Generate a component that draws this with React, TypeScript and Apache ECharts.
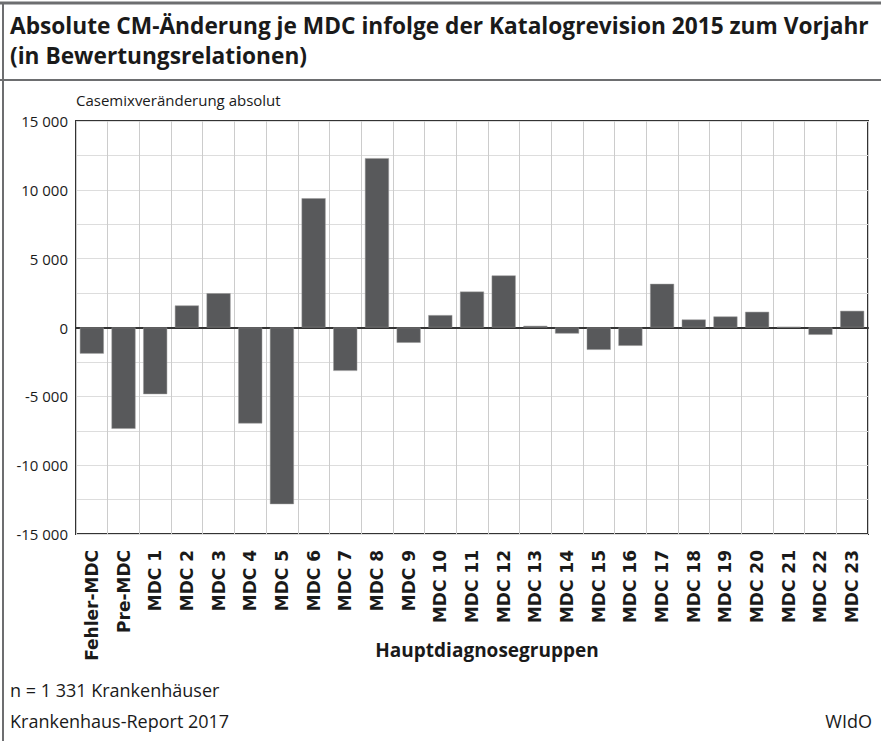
import React, { useEffect, useRef } from "react";
import * as echarts from "echarts";

const categories = [
  "Fehler-MDC", "Pre-MDC", "MDC 1", "MDC 2", "MDC 3", "MDC 4", "MDC 5", "MDC 6",
  "MDC 7", "MDC 8", "MDC 9", "MDC 10", "MDC 11", "MDC 12", "MDC 13", "MDC 14",
  "MDC 15", "MDC 16", "MDC 17", "MDC 18", "MDC 19", "MDC 20", "MDC 21", "MDC 22", "MDC 23",
];
const cmChange = [
  -1900, -7360, -4840, 1600, 2490, -6970, -12830, 9390,
  -3150, 12300, -1110, 900, 2610, 3780, 120, -440,
  -1620, -1330, 3170, 580, 800, 1140, 50, -530, 1210,
];
const yTicks = [-15000, -10000, -5000, 0, 5000, 10000, 15000];

const titleLines = [
  "Absolute CM-Änderung je MDC infolge der Katalogrevision 2015 zum Vorjahr",
  "(in Bewertungsrelationen)",
];
const yAxisName = "Casemixveränderung absolut";
const xAxisName = "Hauptdiagnosegruppen";
const noteText = "n = 1 331 Krankenhäuser";
const sourceText = "Krankenhaus-Report 2017";
const brandText = "WIdO";

const COND = '"Open Sans", sans-serif';
const WIDE = '"DejaVu Sans", Verdana, sans-serif';

function fmt(v: number): string {
  const s = Math.abs(v).toString().replace(/\B(?=(\d{3})+(?!\d))/g, " ");
  return (v < 0 ? "-" : "") + s;
}

export default function App() {
  const ref = useRef<HTMLDivElement>(null);
  useEffect(() => {
    if (!ref.current) return;
    const chart = echarts.init(ref.current, null, { renderer: "svg" });
    chart.setOption({
      animation: false,
      backgroundColor: "#ffffff",
      grid: {
        left: 76, right: 13, top: 121, bottom: 207,
        show: true, borderColor: "#333333", borderWidth: 2, backgroundColor: "transparent",
      },
      graphic: [
        { type: "line", shape: { x1: 0, y1: 3, x2: 881, y2: 3 }, style: { stroke: "#6d6e70", lineWidth: 3 } },
        { type: "line", shape: { x1: 3, y1: 3, x2: 3, y2: 741 }, style: { stroke: "#6d6e70", lineWidth: 2 } },
        { type: "line", shape: { x1: 0, y1: 80, x2: 881, y2: 80 }, style: { stroke: "#6d6e70", lineWidth: 2 } },
        { type: "text", left: 10, top: 14, style: { text: titleLines[0], font: `bold 22.7px ${COND}`, fill: "#1a1a1a" } },
        { type: "text", left: 10, top: 44, style: { text: titleLines[1], font: `bold 22.7px ${COND}`, fill: "#1a1a1a" } },
        { type: "text", left: 10, top: 681, style: { text: noteText, font: `18px ${COND}`, fill: "#1a1a1a" } },
        { type: "text", left: 10, top: 712, style: { text: sourceText, font: `18px ${COND}`, fill: "#1a1a1a" } },
        { type: "text", right: 9, top: 712, style: { text: brandText, font: `18px ${COND}`, fill: "#1a1a1a" } },
        { type: "text", left: 76, top: 92, style: { text: yAxisName, font: `15px ${COND}`, fill: "#1a1a1a" } },
        {
          type: "text", x: 487, y: 650,
          style: { text: xAxisName, font: `bold 19px ${COND}`, fill: "#1a1a1a", align: "center", verticalAlign: "middle" },
        },
      ],
      xAxis: {
        type: "category",
        data: categories,
        axisLine: { onZero: true, lineStyle: { color: "#333333", width: 2 } },
        axisTick: { show: false },
        axisLabel: {
          rotate: 90, interval: 0, margin: 16,
          fontFamily: WIDE, fontWeight: "bold", fontSize: 17, color: "#1a1a1a",
        },
        splitLine: { show: true, interval: 0, lineStyle: { color: "#cccccc", width: 1 } },
      },
      yAxis: {
        type: "value",
        min: -15000, max: 15000, interval: 2500,
        axisLine: { show: false },
        axisTick: { show: false },
        axisLabel: {
          margin: 8,
          fontFamily: COND, fontSize: 15, color: "#1a1a1a",
          formatter: (v: number) => (yTicks.includes(v) ? fmt(v) : ""),
        },
        splitLine: { lineStyle: { color: "#dddddd", width: 1 } },
      },
      series: [
        {
          type: "bar",
          data: cmChange,
          barWidth: 24,
          itemStyle: { color: "#58595b", borderColor: "#9a9a9a", borderWidth: 0.5 },
        },
      ],
    });
    return () => chart.dispose();
  }, []);
  return (
    <div
      ref={ref}
      style={{ position: "fixed", left: 0, top: 0, width: 881, height: 741 }}
    />
  );
}
